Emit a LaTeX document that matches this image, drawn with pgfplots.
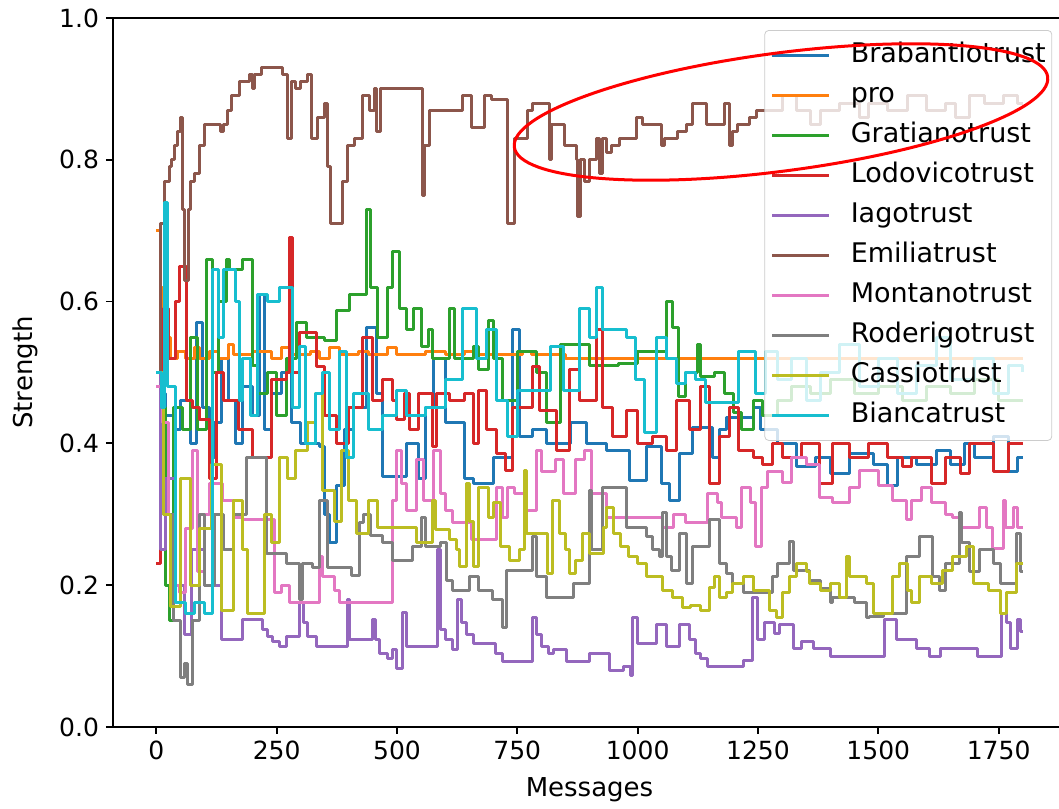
\documentclass[border=0pt]{standalone}
\usepackage{pgfplots}
\pgfplotsset{compat=1.18}
\usepackage{fontspec}
\setmainfont{DejaVu Sans}
\definecolor{c0}{HTML}{1F77B4}
\definecolor{c1}{HTML}{FF7F0E}
\definecolor{c2}{HTML}{2CA02C}
\definecolor{c3}{HTML}{D62728}
\definecolor{c4}{HTML}{9467BD}
\definecolor{c5}{HTML}{8C564B}
\definecolor{c6}{HTML}{E377C2}
\definecolor{c7}{HTML}{7F7F7F}
\definecolor{c8}{HTML}{BCBD22}
\definecolor{c9}{HTML}{17BECF}
\begin{document}
\begin{tikzpicture}
\begin{axis}[
  scale only axis, width=476.5pt, height=354.5pt,
  xmin=-90, xmax=1890, ymin=0, ymax=1,
  xtick={0,250,500,750,1000,1250,1500,1750},
  ytick={0,0.2,0.4,0.6,0.8,1.0},
  scaled x ticks=false,
  /pgf/number format/assume math mode=true,
  xticklabel style={/pgf/number format/set thousands separator={}},
  yticklabel style={/pgf/number format/fixed,/pgf/number format/fixed zerofill,/pgf/number format/precision=1},
  tick label style={font=\fontsize{12.5}{15}\selectfont},
  label style={font=\fontsize{13}{15}\selectfont},
  tick align=outside, xtick pos=bottom, ytick pos=left,
  major tick length=3.5pt,
  every tick/.style={black, line width=0.9pt},
  axis line style={line width=0.9pt},
  xlabel={Messages}, ylabel={Strength},
  xlabel style={at={(axis description cs:0.5,-0.089)}, anchor=center},
  ylabel style={at={(axis description cs:-0.092,0.5)}, anchor=center},
  every axis plot/.append style={const plot, line width=1.5pt, line join=round},
  legend cell align=left,
  legend image code/.code={\draw[#1] (0pt,0pt) -- (28.5pt,0pt);},
  legend style={at={(axis description cs:0.9855,0.983)}, anchor=north east,
    font=\fontsize{13.5}{15}\selectfont, fill=white, fill opacity=0.8, text opacity=1,
    draw=black!20, rounded corners=2pt, inner xsep=3pt, inner ysep=6pt,
    nodes={inner sep=0pt, text height=10pt, text depth=3pt}, row sep=7pt, column sep=10pt},
]
% Brabantiotrust
\addplot[c0] coordinates {(0,0.50) (10,0.47) (20,0.44) (35,0.42) (50,0.46) (70,0.40) (83,0.57) (96,0.45) (110,0.38) (120,0.43) (135,0.52) (150,0.46) (165,0.40) (180,0.48) (200,0.44) (215,0.61) (225,0.42) (240,0.47) (260,0.50) (280,0.43) (300,0.40) (339,0.395) (350,0.30) (360,0.26) (374,0.34) (390,0.42) (410,0.45) (436,0.564) (457,0.47) (470,0.353) (520,0.40) (545,0.35) (560,0.45) (575,0.52) (600,0.43) (640,0.35) (660,0.344) (700,0.38) (740,0.56) (755,0.41) (782,0.42) (810,0.40) (860,0.43) (894,0.40) (935,0.39) (983,0.348) (1018,0.395) (1050,0.344) (1066,0.32) (1087,0.386) (1114,0.423) (1156,0.38) (1170,0.42) (1185,0.437) (1240,0.45) (1255,0.42) (1290,0.40) (1330,0.367) (1370,0.38) (1400,0.358) (1440,0.386) (1490,0.37) (1520,0.34) (1540,0.38) (1580,0.37) (1620,0.39) (1650,0.37) (1680,0.40) (1700,0.38) (1740,0.41) (1770,0.36) (1790,0.38) (1800,0.38)};
\addlegendentry{Brabantiotrust}
% pro
\addplot[c1] coordinates {(0,0.70) (8,0.62) (12,0.58) (20,0.55) (30,0.52) (45,0.53) (60,0.52) (80,0.535) (90,0.52) (110,0.53) (130,0.52) (150,0.54) (160,0.525) (200,0.53) (240,0.52) (260,0.535) (280,0.525) (320,0.53) (340,0.52) (360,0.535) (380,0.525) (420,0.53) (440,0.525) (480,0.535) (500,0.525) (560,0.53) (600,0.525) (640,0.53) (660,0.525) (760,0.53) (780,0.525) (850,0.52) (1800,0.52)};
\addlegendentry{pro}
% Gratianotrust
\addplot[c2] coordinates {(0,0.50) (8,0.45) (20,0.20) (27,0.15) (35,0.45) (55,0.42) (70,0.55) (85,0.42) (104,0.66) (116,0.50) (130,0.60) (145,0.66) (152,0.645) (179,0.66) (200,0.51) (210,0.47) (230,0.50) (250,0.44) (270,0.52) (291,0.57) (312,0.55) (350,0.545) (374,0.588) (401,0.61) (436,0.73) (445,0.62) (460,0.55) (480,0.62) (490,0.67) (505,0.59) (520,0.56) (535,0.59) (550,0.536) (565,0.56) (574,0.52) (610,0.59) (620,0.52) (660,0.536) (670,0.504) (690,0.574) (700,0.52) (720,0.46) (750,0.53) (790,0.50) (810,0.43) (840,0.54) (900,0.51) (960,0.513) (1000,0.53) (1060,0.60) (1073,0.564) (1085,0.466) (1100,0.50) (1125,0.54) (1130,0.494) (1160,0.50) (1180,0.47) (1200,0.443) (1215,0.42) (1240,0.46) (1260,0.44) (1290,0.46) (1320,0.48) (1360,0.47) (1400,0.49) (1450,0.47) (1500,0.48) (1550,0.46) (1600,0.48) (1650,0.47) (1700,0.49) (1750,0.46) (1800,0.46)};
\addlegendentry{Gratianotrust}
% Lodovicotrust
\addplot[c3] coordinates {(0,0.23) (8,0.40) (15,0.59) (25,0.52) (40,0.60) (48,0.65) (62,0.46) (75,0.45) (90,0.433) (110,0.35) (125,0.50) (140,0.46) (170,0.42) (200,0.38) (240,0.49) (270,0.50) (277,0.69) (283,0.50) (297,0.556) (332,0.508) (350,0.44) (375,0.40) (400,0.45) (428,0.55) (449,0.46) (470,0.49) (490,0.46) (500,0.433) (515,0.47) (525,0.42) (545,0.47) (574,0.395) (582,0.47) (610,0.46) (640,0.47) (660,0.40) (670,0.475) (686,0.42) (706,0.386) (725,0.362) (740,0.45) (782,0.508) (796,0.447) (832,0.39) (859,0.504) (880,0.46) (914,0.56) (928,0.45) (948,0.41) (977,0.447) (1000,0.40) (1030,0.41) (1060,0.39) (1081,0.46) (1108,0.42) (1130,0.48) (1150,0.344) (1170,0.41) (1190,0.45) (1210,0.39) (1240,0.38) (1260,0.37) (1280,0.40) (1300,0.38) (1340,0.40) (1378,0.344) (1405,0.40) (1440,0.38) (1480,0.40) (1520,0.38) (1550,0.367) (1570,0.38) (1610,0.344) (1640,0.38) (1670,0.358) (1690,0.40) (1740,0.36) (1770,0.40) (1800,0.40)};
\addlegendentry{Lodovicotrust}
% Iagotrust
\addplot[c4] coordinates {(0,0.50) (8,0.25) (20,0.35) (40,0.20) (58,0.13) (73,0.25) (100,0.20) (135,0.123) (179,0.151) (221,0.137) (230,0.128) (241,0.12) (255,0.113) (270,0.128) (297,0.175) (305,0.147) (315,0.128) (332,0.113) (397,0.18) (401,0.123) (449,0.151) (455,0.123) (463,0.104) (480,0.097) (490,0.11) (499,0.083) (512,0.162) (520,0.113) (584,0.25) (590,0.137) (600,0.123) (615,0.109) (626,0.18) (635,0.147) (645,0.13) (660,0.118) (705,0.104) (720,0.092) (782,0.154) (790,0.13) (800,0.113) (815,0.104) (825,0.11) (852,0.092) (900,0.104) (942,0.08) (970,0.085) (985,0.073) (990,0.154) (1000,0.118) (1040,0.144) (1060,0.113) (1088,0.144) (1108,0.123) (1120,0.104) (1130,0.097) (1145,0.085) (1220,0.094) (1239,0.183) (1250,0.123) (1264,0.147) (1285,0.132) (1295,0.144) (1323,0.111) (1340,0.12) (1365,0.111) (1400,0.10) (1513,0.151) (1538,0.123) (1580,0.111) (1607,0.10) (1630,0.111) (1707,0.10) (1757,0.16) (1767,0.147) (1775,0.111) (1790,0.151) (1795,0.134) (1800,0.134)};
\addlegendentry{Iagotrust}
% Emiliatrust
\addplot[c5] coordinates {(0,0.50) (8,0.71) (17,0.77) (27,0.79) (31,0.80) (38,0.82) (44,0.84) (50,0.86) (55,0.73) (58,0.63) (66,0.73) (72,0.77) (80,0.78) (89,0.82) (100,0.85) (133,0.84) (140,0.85) (148,0.87) (156,0.89) (173,0.91) (193,0.92) (200,0.90) (205,0.92) (218,0.93) (262,0.92) (272,0.83) (281,0.91) (290,0.90) (300,0.91) (314,0.92) (322,0.83) (335,0.86) (349,0.88) (356,0.79) (362,0.71) (387,0.77) (397,0.82) (412,0.83) (428,0.89) (443,0.87) (453,0.90) (458,0.84) (465,0.90) (520,0.90) (553,0.75) (558,0.82) (568,0.87) (636,0.89) (655,0.845) (682,0.89) (696,0.885) (730,0.71) (744,0.83) (771,0.87) (782,0.88) (817,0.80) (822,0.85) (848,0.82) (873,0.80) (876,0.72) (882,0.80) (890,0.77) (900,0.80) (914,0.83) (920,0.78) (926,0.83) (935,0.81) (945,0.82) (962,0.83) (997,0.86) (1010,0.85) (1050,0.82) (1056,0.83) (1083,0.84) (1101,0.85) (1114,0.88) (1143,0.85) (1180,0.88) (1190,0.82) (1198,0.84) (1208,0.85) (1233,0.86) (1247,0.87) (1300,0.89) (1330,0.87) (1360,0.85) (1380,0.87) (1420,0.88) (1460,0.86) (1480,0.88) (1520,0.87) (1560,0.89) (1600,0.87) (1640,0.88) (1660,0.86) (1690,0.89) (1720,0.88) (1760,0.89) (1790,0.88) (1800,0.88)};
\addlegendentry{Emiliatrust}
% Montanotrust
\addplot[c6] coordinates {(0,0.48) (12,0.43) (25,0.30) (40,0.20) (48,0.19) (60,0.28) (75,0.39) (85,0.22) (100,0.30) (110,0.344) (137,0.32) (160,0.296) (180,0.292) (245,0.189) (260,0.20) (276,0.175) (340,0.24) (345,0.212) (370,0.193) (380,0.175) (490,0.32) (500,0.39) (510,0.344) (520,0.306) (540,0.377) (555,0.32) (575,0.39) (590,0.33) (600,0.306) (615,0.288) (655,0.264) (706,0.338) (720,0.296) (730,0.338) (745,0.33) (770,0.306) (790,0.39) (800,0.36) (830,0.377) (845,0.33) (870,0.377) (890,0.39) (905,0.33) (935,0.296) (1052,0.282) (1075,0.30) (1100,0.288) (1145,0.33) (1165,0.316) (1175,0.296) (1205,0.282) (1215,0.338) (1235,0.316) (1245,0.254) (1257,0.338) (1270,0.36) (1300,0.345) (1320,0.38) (1350,0.37) (1378,0.324) (1405,0.316) (1440,0.338) (1460,0.362) (1500,0.34) (1530,0.32) (1559,0.292) (1570,0.32) (1590,0.338) (1610,0.316) (1640,0.30) (1655,0.296) (1670,0.282) (1711,0.31) (1725,0.282) (1738,0.252) (1760,0.32) (1765,0.282) (1780,0.31) (1790,0.282) (1800,0.282)};
\addlegendentry{Montanotrust}
% Roderigotrust
\addplot[c7] coordinates {(0,0.50) (15,0.30) (35,0.15) (50,0.07) (58,0.09) (65,0.06) (75,0.15) (90,0.30) (100,0.20) (120,0.30) (140,0.25) (160,0.30) (187,0.38) (229,0.245) (270,0.23) (297,0.18) (303,0.23) (325,0.225) (339,0.32) (355,0.225) (405,0.214) (422,0.288) (430,0.30) (445,0.27) (470,0.26) (490,0.235) (532,0.254) (550,0.296) (560,0.254) (590,0.26) (603,0.207) (615,0.193) (651,0.212) (670,0.193) (699,0.18) (720,0.141) (727,0.221) (782,0.268) (790,0.212) (810,0.183) (866,0.203) (900,0.334) (905,0.25) (928,0.338) (977,0.282) (1018,0.268) (1030,0.25) (1046,0.24) (1052,0.302) (1060,0.24) (1070,0.221) (1087,0.273) (1102,0.203) (1115,0.254) (1150,0.292) (1170,0.231) (1185,0.217) (1198,0.203) (1220,0.189) (1281,0.212) (1290,0.231) (1316,0.261) (1323,0.221) (1358,0.207) (1380,0.195) (1400,0.175) (1405,0.183) (1450,0.175) (1476,0.154) (1481,0.156) (1510,0.16) (1559,0.24) (1586,0.268) (1613,0.212) (1628,0.193) (1640,0.23) (1669,0.302) (1673,0.26) (1690,0.22) (1711,0.25) (1740,0.231) (1753,0.203) (1788,0.273) (1795,0.22) (1800,0.22)};
\addlegendentry{Roderigotrust}
% Cassiotrust
\addplot[c8] coordinates {(0,0.50) (15,0.30) (30,0.17) (50,0.35) (70,0.20) (90,0.28) (115,0.37) (135,0.165) (160,0.32) (180,0.25) (190,0.16) (225,0.30) (240,0.26) (255,0.38) (272,0.35) (290,0.39) (315,0.43) (330,0.47) (345,0.334) (370,0.29) (385,0.39) (400,0.32) (415,0.273) (440,0.32) (460,0.282) (540,0.26) (574,0.32) (580,0.278) (610,0.265) (624,0.25) (630,0.226) (644,0.344) (650,0.29) (660,0.226) (670,0.338) (690,0.296) (700,0.316) (715,0.254) (734,0.235) (755,0.25) (765,0.362) (770,0.273) (813,0.217) (824,0.32) (838,0.273) (850,0.25) (859,0.217) (870,0.235) (885,0.273) (900,0.245) (930,0.282) (935,0.31) (950,0.273) (965,0.254) (980,0.24) (1000,0.231) (1018,0.212) (1052,0.193) (1072,0.183) (1094,0.169) (1110,0.172) (1130,0.165) (1150,0.197) (1160,0.212) (1170,0.183) (1185,0.19) (1198,0.203) (1220,0.212) (1240,0.193) (1274,0.165) (1288,0.155) (1302,0.189) (1316,0.212) (1330,0.231) (1350,0.22) (1358,0.203) (1380,0.193) (1400,0.203) (1420,0.183) (1434,0.24) (1440,0.212) (1475,0.203) (1489,0.16) (1530,0.212) (1545,0.231) (1560,0.193) (1570,0.175) (1585,0.212) (1610,0.203) (1634,0.221) (1655,0.24) (1684,0.254) (1697,0.203) (1730,0.193) (1753,0.16) (1767,0.189) (1788,0.231) (1800,0.231)};
\addlegendentry{Cassiotrust}
% Biancatrust
\addplot[c9] coordinates {(0,0.50) (10,0.45) (18,0.74) (24,0.48) (40,0.175) (60,0.16) (80,0.175) (100,0.16) (116,0.645) (130,0.55) (140,0.645) (165,0.60) (173,0.46) (180,0.52) (195,0.44) (210,0.61) (230,0.60) (256,0.62) (283,0.45) (297,0.536) (310,0.40) (330,0.47) (345,0.50) (360,0.42) (380,0.53) (395,0.38) (410,0.47) (440,0.42) (470,0.44) (500,0.475) (520,0.44) (560,0.45) (600,0.49) (637,0.59) (665,0.52) (685,0.56) (706,0.46) (730,0.41) (750,0.475) (820,0.536) (845,0.475) (880,0.59) (900,0.55) (914,0.62) (928,0.56) (977,0.55) (995,0.49) (1015,0.415) (1040,0.55) (1060,0.52) (1080,0.485) (1100,0.50) (1120,0.49) (1140,0.457) (1210,0.53) (1245,0.47) (1265,0.53) (1290,0.49) (1320,0.52) (1350,0.46) (1380,0.50) (1420,0.54) (1460,0.48) (1500,0.52) (1540,0.47) (1580,0.51) (1620,0.55) (1650,0.49) (1700,0.52) (1740,0.47) (1770,0.51) (1800,0.50)};
\addlegendentry{Biancatrust}
\end{axis}
\begin{scope}[shift={([xshift=334pt,yshift=307.5pt]current axis.south west)}, rotate=7.5]
  \draw[red, line width=1.5pt] (0,0) ellipse (134.5pt and 29.5pt);
\end{scope}
\pgfresetboundingbox
\path ([xshift=-56.5pt,yshift=-40.5pt]current axis.south west) rectangle ([xshift=473pt,yshift=363.5pt]current axis.south west);
\end{tikzpicture}
\end{document}
